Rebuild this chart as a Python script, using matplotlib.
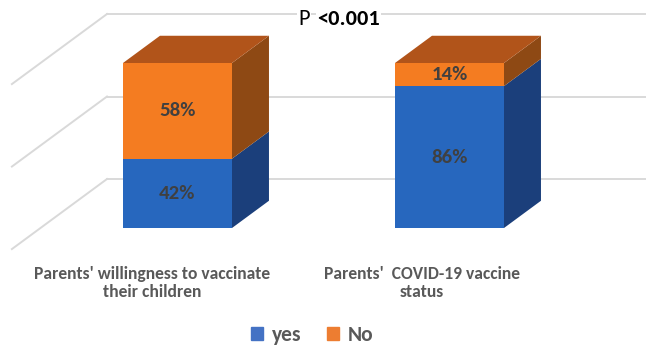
import matplotlib.pyplot as plt
from matplotlib.patches import Polygon, Patch

# datos del grafico
categorias = ["Parents' willingness to vaccinate\ntheir children",
              "Parents'  COVID-19 vaccine\nstatus"]
pct_yes = [42, 86]
pct_no = [58, 14]
series = ['yes', 'No']
marcas_grid = [0, 50, 100]
p_valor = '<0.001'

plt.rcParams['font.family'] = ['Carlito', 'DejaVu Sans']

W, H = 646, 348
fig = plt.figure(figsize=(W / 100, H / 100), dpi=100)
ax = fig.add_axes([0, 0, 1, 1])

# eje x: indice de categoria, eje y: porcentaje en el plano frontal de las barras
PX = 272.0   # pixeles por categoria
PY = 1.65    # pixeles por punto porcentual
x0, y0 = 177.5, 228
ax.set_xlim(-x0 / PX, (W - x0) / PX)
ax.set_ylim(-(H - y0) / PY, y0 / PY)
ax.axis('off')

# vector de profundidad (1 = desde el frente de las barras hasta la pared del fondo)
DX, DY = 66.5 / PX, 49 / PY


def proy(x, y, d):
    return (x + d * DX, y + d * DY)


# paredes: lineas de la cuadricula en el fondo y en la pared izquierda
x_pared = (40.5 - x0) / PX
x_fin = ax.get_xlim()[1]
for t in marcas_grid:
    bx, by = proy(x_pared, t, 1)
    fx, fy = proy(x_pared, t, -0.43)
    ax.plot([bx, x_fin], [by, by], color='#d9d9d9', lw=1.4, zorder=1)
    ax.plot([fx, bx], [fy, by], color='#d9d9d9', lw=1.4, zorder=1)

# colores: frente, lado, tapa
col_yes = ('#2767be', '#1b3f7b', '#1f4f95')
col_no = ('#f47c21', '#8e4914', '#b1541a')

media = 54.5 / PX
prof = 0.556


def segmento(xc, ya, yb, cols, tapa):
    xl, xr = xc - media, xc + media
    frente = [(xl, ya), (xr, ya), (xr, yb), (xl, yb)]
    lado = [(xr, ya), proy(xr, ya, prof), proy(xr, yb, prof), (xr, yb)]
    ax.add_patch(Polygon(lado, closed=True, fc=cols[1], ec='none', zorder=3))
    ax.add_patch(Polygon(frente, closed=True, fc=cols[0], ec='none', zorder=4))
    if tapa:
        arriba = [(xl, yb), (xr, yb), proy(xr, yb, prof), proy(xl, yb, prof)]
        ax.add_patch(Polygon(arriba, closed=True, fc=cols[2], ec='none', zorder=3))


for i in range(len(categorias)):
    segmento(i, 0, pct_yes[i], col_yes, False)
    segmento(i, pct_yes[i], pct_yes[i] + pct_no[i], col_no, True)
    ax.text(i, pct_yes[i] / 2, f'{pct_yes[i]}%', ha='center', va='center',
            fontsize=15, fontweight='bold', color='#404040', zorder=5)
    ax.text(i, pct_yes[i] + pct_no[i] / 2, f'{pct_no[i]}%', ha='center', va='center',
            fontsize=15, fontweight='bold', color='#404040', zorder=5)

# etiquetas de categoria
x_etiquetas = [152, 422]
for i, cat in enumerate(categorias):
    fig.text(x_etiquetas[i] / W, 1 - 283 / H, cat, ha='center', va='center',
             fontsize=12.6, fontweight='bold', color='#595959', linespacing=1.15)

# valor p
fig.text(298 / W, 1 - 19 / H, 'P', ha='left', va='center', fontsize=16,
         color='black', bbox=dict(fc='white', ec='none', pad=1))
fig.text(317 / W, 1 - 19 / H, p_valor, ha='left', va='center', fontsize=16,
         fontweight='bold', color='black', bbox=dict(fc='white', ec='none', pad=1))

# leyenda
handles = [Patch(color='#4472c4'), Patch(color='#ed7d31')]
leg = fig.legend(handles, series, loc='center', bbox_to_anchor=(312 / W, 1 - 335 / H),
                 ncol=2, frameon=False, handlelength=0.55, handleheight=0.55,
                 handletextpad=0.4, columnspacing=1.2,
                 prop={'weight': 'bold', 'size': 15.5})
for t in leg.get_texts():
    t.set_color('#595959')

plt.savefig('out.png', dpi=100)
